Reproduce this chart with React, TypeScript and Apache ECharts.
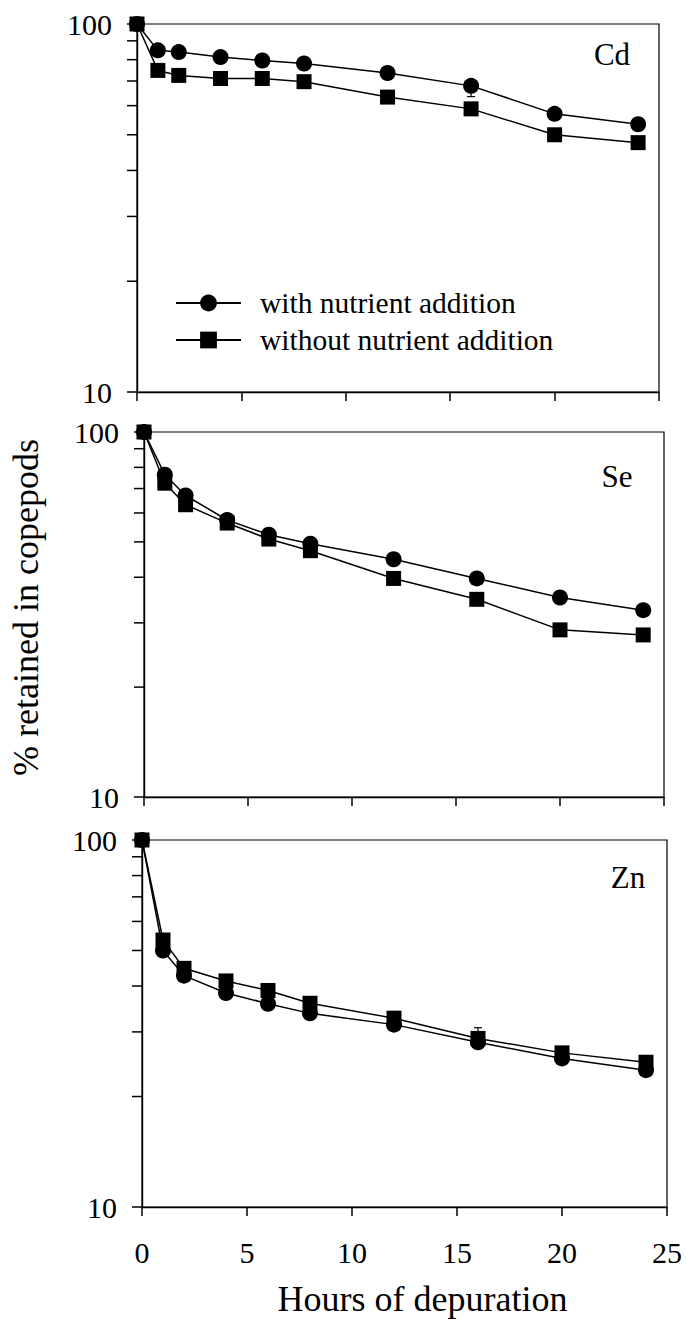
import React, { useEffect, useRef } from "react";
import * as echarts from "echarts";

const hours = [0, 1, 2, 4, 6, 8, 12, 16, 20, 24];
const cdWith = [100, 84.8, 83.9, 81.3, 79.6, 78.1, 73.6, 67.9, 57.0, 53.4];
const cdWithout = [100, 74.8, 72.5, 71.1, 71.1, 69.7, 63.3, 58.8, 50.0, 47.6];
const seWith = [100, 76.4, 67.0, 57.4, 52.3, 49.4, 44.8, 39.7, 35.2, 32.5];
const seWithout = [100, 72.4, 63.2, 56.3, 50.9, 47.3, 39.7, 34.8, 28.7, 27.8];
const znWith = [100, 50.0, 42.7, 38.3, 35.8, 33.7, 31.4, 28.1, 25.4, 23.6];
const znWithout = [100, 53.4, 44.7, 41.3, 38.9, 35.9, 32.7, 28.8, 26.3, 24.8];
// visible error bars: [hour, mean, end]
const cdErrors = [[16, 67.9, 63.5]];
const seErrors: number[][] = [];
const znErrors = [[16, 28.8, 30.8]];
const elements = ["Cd", "Se", "Zn"];
const seriesNames = ["with nutrient addition", "without nutrient addition"];
const xTicks = [0, 5, 10, 15, 20, 25];
const yMinorTicks = [20, 30, 40, 50, 60, 70, 80, 90];

const FONT = "Liberation Serif";

export default function App() {
  const ref = useRef<HTMLDivElement>(null);
  useEffect(() => {
    if (!ref.current) return;
    const chart = echarts.init(ref.current, null, { renderer: "svg" });
    const grids = [
      { left: 137, top: 24, width: 522, height: 368 },
      { left: 141, top: 432, width: 523, height: 365 },
      { left: 142, top: 840, width: 525, height: 367 },
    ];
    const panels = [
      [cdWith, cdWithout],
      [seWith, seWithout],
      [znWith, znWithout],
    ];
    const errs = [cdErrors, seErrors, znErrors];
    const labelPos = [
      { x: 612, y: 54 },
      { x: 617, y: 476 },
      { x: 628, y: 877 },
    ];
    const axisLine = { show: true, lineStyle: { color: "#000", width: 1.4 } };
    const xAxis = grids.map((_, i) => ({
      type: "value",
      gridIndex: i,
      min: xTicks[0],
      max: xTicks[xTicks.length - 1],
      interval: 5,
      axisLine,
      axisTick: { show: true, inside: false, length: 9, lineStyle: { color: "#000", width: 1.5 } },
      axisLabel: { show: i === 2, color: "#000", fontFamily: FONT, fontSize: 30, margin: 30 },
      splitLine: { show: false },
      name: i === 2 ? "Hours of depuration" : "",
      nameLocation: "middle",
      nameGap: 74,
      nameTextStyle: { color: "#000", fontFamily: FONT, fontSize: 36, padding: [0, 0, 0, 36] },
    }));
    const yAxis = grids.map((_, i) => ({
      type: "log",
      logBase: 10,
      gridIndex: i,
      min: 10,
      max: 100,
      axisLine,
      axisTick: { show: true, inside: false, length: 10, lineStyle: { color: "#000", width: 1.5 } },
      axisLabel: { color: "#000", fontFamily: FONT, fontSize: 30, margin: 25 },
      splitLine: { show: false },
      minorTick: { show: false },
      name: i === 1 ? "% retained in copepods" : "",
      nameLocation: "middle",
      nameGap: 100,
      nameRotate: 90,
      nameTextStyle: { color: "#000", fontFamily: FONT, fontSize: 36, padding: [0, 0, 0, 14] },
    }));
    const series: any[] = [];
    panels.forEach((pair, i) => {
      // minor ticks on the log y axis at 20..90
      series.push({
        type: "custom",
        xAxisIndex: i,
        yAxisIndex: i,
        clip: false,
        silent: true,
        z: 1,
        data: yMinorTicks.map((v) => [xTicks[0], v]),
        renderItem: (params: any, api: any) => {
          const p = api.coord([api.value(0), api.value(1)]);
          return {
            type: "line",
            shape: { x1: p[0] - 10, y1: p[1], x2: p[0], y2: p[1] },
            style: { stroke: "#000", lineWidth: 1.5 },
          };
        },
      });
      // error bars
      series.push({
        type: "custom",
        xAxisIndex: i,
        yAxisIndex: i,
        clip: false,
        silent: true,
        z: 2,
        data: errs[i],
        renderItem: (params: any, api: any) => {
          const a = api.coord([api.value(0), api.value(1)]);
          const b = api.coord([api.value(0), api.value(2)]);
          return {
            type: "group",
            children: [
              { type: "line", shape: { x1: a[0], y1: a[1], x2: b[0], y2: b[1] }, style: { stroke: "#000", lineWidth: 1.2 } },
              { type: "line", shape: { x1: b[0] - 4, y1: b[1], x2: b[0] + 4, y2: b[1] }, style: { stroke: "#000", lineWidth: 1.2 } },
            ],
          };
        },
      });
      pair.forEach((vals, k) => {
        series.push({
          type: "line",
          name: seriesNames[k],
          xAxisIndex: i,
          yAxisIndex: i,
          data: hours.map((h, j) => [h, vals[j]]),
          symbol: k === 0 ? "circle" : "rect",
          symbolSize: k === 0 ? 16 : 15,
          itemStyle: { color: "#000" },
          lineStyle: { color: "#000", width: 1.5 },
          z: 3 + k,
          clip: false,
        });
      });
    });
    chart.setOption({
      animation: false,
      backgroundColor: "#fff",
      textStyle: { fontFamily: FONT },
      grid: grids.map((g) => ({ ...g, show: true, borderColor: "#000", borderWidth: 1.2, backgroundColor: "transparent" })),
      xAxis,
      yAxis,
      legend: {
        data: seriesNames,
        orient: "vertical",
        left: 175,
        top: 288,
        padding: 0,
        itemWidth: 65,
        itemHeight: 21,
        itemGap: 7,
        textStyle: { color: "#000", fontFamily: FONT, fontSize: 29.5, padding: [0, 0, 0, 14] },
        selectedMode: false,
      },
      graphic: elements.map((t, i) => ({
        type: "text",
        x: labelPos[i].x,
        y: labelPos[i].y,
        style: { text: t, fill: "#000", fontFamily: FONT, fontSize: 31, textAlign: "center", textVerticalAlign: "middle" },
      })),
      series,
    });
    return () => chart.dispose();
  }, []);
  return (
    <div
      ref={ref}
      style={{ position: "absolute", left: 0, top: 0, width: 686, height: 1323, background: "#fff" }}
    />
  );
}
